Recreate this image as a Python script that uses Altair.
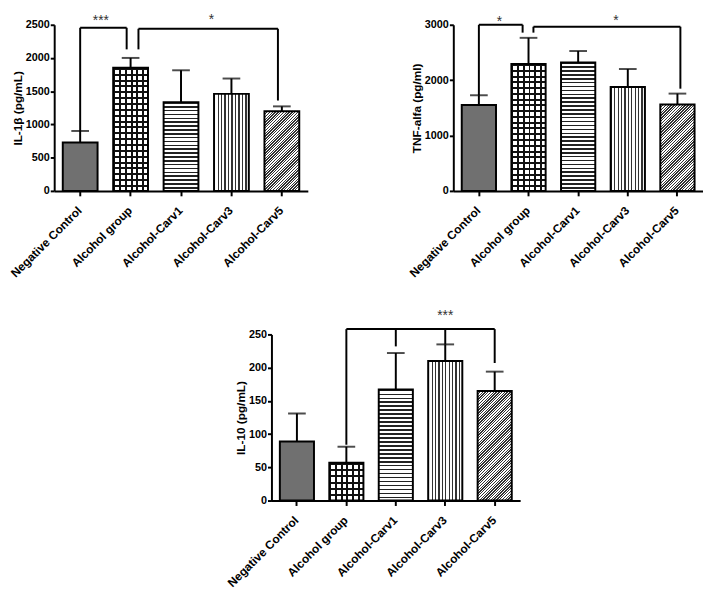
import altair as alt
import pandas as pd

cats = ["Negative Control", "Alcohol group", "Alcohol-Carv1", "Alcohol-Carv3", "Alcohol-Carv5"]

il1b_mean = [728, 1852, 1336, 1460, 1198]
il1b_err = [174, 149, 479, 231, 74]
tnf_mean = [1550, 2290, 2320, 1876, 1562]
tnf_err = [177, 474, 206, 325, 195]
il10_mean = [89, 57, 167, 210, 165]
il10_err = [42, 24, 55, 25, 29]

il1b_ticks = [0, 500, 1000, 1500, 2000, 2500]
tnf_ticks = [0, 1000, 2000, 3000]
il10_ticks = [0, 50, 100, 150, 200, 250]

# bracket segments: x, x2, y, y2, x offset, x2 offset (px)
il1b_brackets = [
    ("Negative Control", "Negative Control", 902, 2455, 0, 0),
    ("Negative Control", "Alcohol group", 2455, 2455, 0, -4),
    ("Alcohol group", "Alcohol group", 2455, 2130, -4, -4),
    ("Alcohol group", "Alcohol group", 2130, 2440, 8, 8),
    ("Alcohol group", "Alcohol-Carv5", 2440, 2440, 8, -4),
    ("Alcohol-Carv5", "Alcohol-Carv5", 2440, 1360, -4, -4),
]
tnf_brackets = [
    ("Negative Control", "Negative Control", 1727, 3000, 0, 0),
    ("Negative Control", "Alcohol group", 3000, 3000, 0, -6),
    ("Alcohol group", "Alcohol group", 3000, 2858, -6, -6),
    ("Alcohol group", "Alcohol group", 2858, 2965, 5, 5),
    ("Alcohol group", "Alcohol-Carv5", 2965, 2965, 5, 3),
    ("Alcohol-Carv5", "Alcohol-Carv5", 2965, 1846, 3, 3),
]
il10_brackets = [
    ("Alcohol group", "Alcohol-Carv5", 258, 258, 0, 0),
    ("Alcohol group", "Alcohol group", 258, 84, 0, 0),
    ("Alcohol-Carv1", "Alcohol-Carv1", 258, 232, 0, 0),
    ("Alcohol-Carv3", "Alcohol-Carv3", 258, 235, 0, 0),
    ("Alcohol-Carv5", "Alcohol-Carv5", 258, 207, 0, 0),
]
# stars: label, category, value, dx
il1b_stars = [("***", "Negative Control", 2490, 21), ("*", "Alcohol-Carv1", 2505, 31)]
tnf_stars = [("*", "Negative Control", 2985, 21), ("*", "Alcohol-Carv3", 3002, -12)]
il10_stars = [("***", "Alcohol-Carv3", 271, 0)]

FONT = "Liberation Sans"
PAD_IN, PAD_OUT = 0.31, 0.17
CLEAR = "rgba(255,255,255,0)"


def stripes(n, duty, dark, light, x2, y2):
    stops = []
    for i in range(n):
        a = round(i / n, 5)
        b = round((i + duty) / n, 5)
        c = round((i + 1) / n, 5)
        stops += [(a, dark), (b, dark), (b, light), (c, light)]
    return alt.LinearGradient(
        gradient="linear",
        stops=[alt.GradientStop(offset=o, color=col) for o, col in stops],
        x1=0, y1=0, x2=x2, y2=y2,
    )


def panel(mean, err, title, ticks, brackets, stars, width, height):
    top = [m + e for m, e in zip(mean, err)]
    df = pd.DataFrame({"cat": cats, "mean": mean, "top": top})
    xscale = alt.Scale(domain=cats, paddingInner=PAD_IN, paddingOuter=PAD_OUT)
    yscale = alt.Scale(domain=[ticks[0], ticks[-1]], nice=False)
    xaxis = alt.Axis(title=None, labelAngle=-45, labelPadding=9, labelOffset=-4,
                     tickSize=5, labelFontSize=12)
    yaxis = alt.Axis(values=ticks, title=title, format="d")
    X = alt.X("cat:N", scale=xscale, axis=xaxis)
    Y = alt.Y("mean:Q", scale=yscale, axis=yaxis, title=title)

    step = width / (len(cats) - PAD_IN + 2 * PAD_OUT)
    bw = step * (1 - PAD_IN)
    hpx = [m / ticks[-1] * height for m in mean]

    layers = []
    for i, cat in enumerate(cats):
        sub = df[df["cat"] == cat]
        b = alt.Chart(sub)
        h = max(hpx[i], 1)
        if i == 0:
            layers.append(b.mark_bar(fill="#707070", stroke="black", strokeWidth=2).encode(x=X, y=Y))
        elif i == 1:
            n_h = max(1, round(h / 6))
            n_v = max(1, round(bw / 6))
            layers.append(b.mark_bar(fill="white").encode(x=X, y=Y))
            layers.append(b.mark_bar(fill=stripes(n_h, 0.34, "#111111", CLEAR, 0, 1)).encode(x=X, y=Y))
            layers.append(b.mark_bar(fill=stripes(n_v, 0.34, "#111111", CLEAR, 1, 0),
                                     stroke="black", strokeWidth=2).encode(x=X, y=Y))
        elif i == 2:
            n = max(1, round(h / 4))
            layers.append(b.mark_bar(fill=stripes(n, 0.4, "#222222", "white", 0, 1),
                                     stroke="black", strokeWidth=2).encode(x=X, y=Y))
        elif i == 3:
            n = max(1, round(bw / 3.5))
            layers.append(b.mark_bar(fill=stripes(n, 0.35, "#333333", "white", 1, 0),
                                     stroke="black", strokeWidth=2).encode(x=X, y=Y))
        else:
            a = bw / h
            t = (a + 1) / (a * a + 1)
            n = max(1, round((bw + h) / 2 ** 0.5 / 2.0))
            layers.append(b.mark_bar(fill=stripes(n, 0.5, "#333333", "white", round(a * t, 5), round(t, 5)),
                                     stroke="black", strokeWidth=2).encode(x=X, y=Y))

    base = alt.Chart(df)
    errs = base.mark_rule(color="black", strokeWidth=2).encode(x=X, y=Y, y2="top:Q")
    caps = base.mark_tick(color="black", size=18, thickness=2).encode(
        x=X, y=alt.Y("top:Q", scale=yscale, axis=yaxis, title=title),
    )
    layers += [errs, caps]

    bdf = pd.DataFrame(brackets, columns=["x", "x2", "y", "y2", "xo", "x2o"])
    for (xo, x2o), sub in bdf.groupby(["xo", "x2o"]):
        layers.append(
            alt.Chart(sub[["x", "x2", "y", "y2"]]).mark_rule(
                color="black", strokeWidth=2, xOffset=int(xo), x2Offset=int(x2o)
            ).encode(
                x=alt.X("x:N", scale=xscale, axis=xaxis),
                x2="x2:N",
                y=alt.Y("y:Q", scale=yscale, axis=yaxis, title=title),
                y2="y2:Q",
            )
        )
    for label, cat, val, dx in stars:
        sdf = pd.DataFrame({"label": [label], "cat": [cat], "val": [val]})
        layers.append(
            alt.Chart(sdf).mark_text(
                fontSize=14, font=FONT, color="#333333", baseline="alphabetic", dx=dx
            ).encode(
                x=alt.X("cat:N", scale=xscale, axis=xaxis),
                y=alt.Y("val:Q", scale=yscale, axis=yaxis, title=title),
                text="label:N",
            )
        )
    return alt.layer(*layers).properties(width=width, height=height)


p1 = panel(il1b_mean, il1b_err, "IL-1β (pg/mL)", il1b_ticks, il1b_brackets, il1b_stars, 258, 169)
p2 = panel(tnf_mean, tnf_err, "TNF-alfa (pg/ml)", tnf_ticks, tnf_brackets, tnf_stars, 254, 169)
p3 = panel(il10_mean, il10_err, "IL-10 (pg/mL)", il10_ticks, il10_brackets, il10_stars, 253, 169)

spacer = alt.Chart(pd.DataFrame({"a": [0]})).mark_point(opacity=0).encode(
    x=alt.X("a:Q", axis=None), y=alt.Y("a:Q", axis=None)
).properties(width=171, height=169)

top_row = alt.hconcat(p1, p2, spacing=148, bounds="flush")
bottom_row = alt.hconcat(spacer, p3, spacing=50, bounds="flush")

chart = alt.vconcat(top_row, bottom_row, spacing=315, bounds="flush").properties(
    padding=0, background="white"
).configure_view(stroke=None).configure_axis(
    labelFont=FONT, labelFontWeight="bold", labelFontSize=11, labelColor="black",
    titleFont=FONT, titleFontWeight="bold", titleFontSize=12, titleColor="black",
    domainColor="black", domainWidth=2, tickColor="black", tickWidth=2, tickSize=4,
    labelPadding=1, titlePadding=1, grid=False,
)

chart.save("out.html", embed_options={"renderer": "svg", "actions": False})
